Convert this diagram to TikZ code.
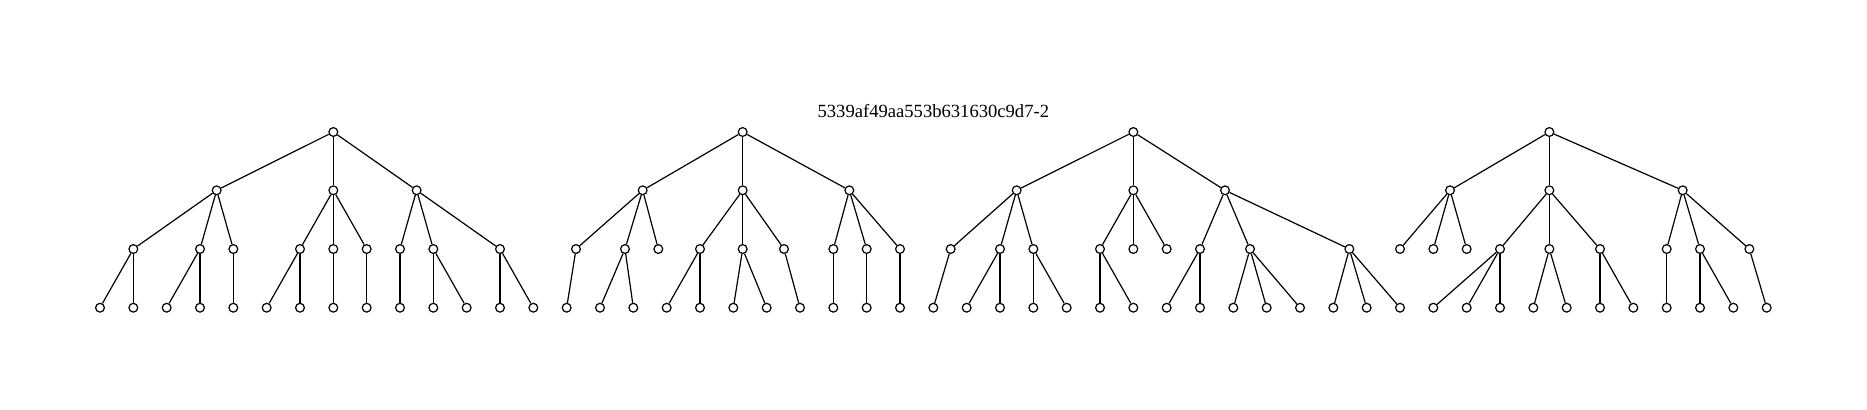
\documentclass[tikz,border=0pt]{standalone}
\usepackage{fontspec}
\setmainfont{Liberation Serif}
\usepackage{tikz}

\begin{document}
\begin{tikzpicture}[x=16.6667pt, y=-0.5pt,
  vertex/.style={draw, circle, fill=white, inner sep=0pt, minimum size=4.4pt, line width=0.6pt},
  edge/.style={line width=0.6pt}]
  \def\ya{132}
  \def\yb{190.3}
  \def\yc{249}
  \def\yd{307.7}
  \useasboundingbox (-3,0) rectangle (53.01,409);
  \node[anchor=base, font=\fontsize{9.3}{11}\selectfont] (title) at (25,117.3)
    {5339af49aa553b631630c9d7-2};
  % inner vertices of the four trees
  \foreach \n/\x/\y in {
      a/7/\ya, a1/3.5/\yb, a2/7/\yb, a3/9.5/\yb,
      a11/1/\yc, a12/3/\yc, a13/4/\yc, a21/6/\yc, a22/7/\yc, a23/8/\yc,
      a31/9/\yc, a32/10/\yc, a33/12/\yc,
      b/19.28/\ya, b1/16.28/\yb, b2/19.28/\yb, b3/22.48/\yb,
      b11/14.28/\yc, b12/15.75/\yc, b13/16.75/\yc, b21/18/\yc, b22/19.28/\yc,
      b23/20.52/\yc, b31/22/\yc, b32/23/\yc, b33/24/\yc,
      c/31/\ya, c1/27.5/\yb, c2/31/\yb, c3/33.75/\yb,
      c11/25.52/\yc, c12/27/\yc, c13/28/\yc, c21/30/\yc, c22/31/\yc, c23/32/\yc,
      c31/33/\yc, c32/34.5/\yc, c33/37.48/\yc,
      d/43.48/\ya, d1/40.5/\yb, d2/43.48/\yb, d3/47.48/\yb,
      d11/39/\yc, d12/40/\yc, d13/41/\yc, d21/42/\yc, d22/43.48/\yc, d23/45/\yc,
      d31/47/\yc, d32/48/\yc, d33/49.48/\yc}
    \node[vertex] (\n) at (\x,\y) {};
  % leaves
  \foreach \i in {0,...,50}
    \node[vertex] (l\i) at (\i,\yd) {};
  % upper edges
  \foreach \t in {a,b,c,d} {
    \foreach \k in {1,2,3} {
      \draw[edge] (\t) -- (\t\k);
      \foreach \m in {1,2,3}
        \draw[edge] (\t\k) -- (\t\k\m);
    }
  }
  % edges to the leaves
  \foreach \p/\c in {
      a11/0, a11/1, a12/2, a12/3, a13/4, a21/5, a21/6, a22/7, a23/8,
      a31/9, a32/10, a32/11, a33/12, a33/13,
      b11/14, b12/15, b12/16, b21/17, b21/18, b22/19, b22/20, b23/21,
      b31/22, b32/23, b33/24,
      c11/25, c12/26, c12/27, c13/28, c13/29, c21/30, c21/31, c31/32, c31/33,
      c32/34, c32/35, c32/36, c33/37, c33/38, c33/39,
      d21/40, d21/41, d21/42, d22/43, d22/44, d23/45, d23/46, d31/47,
      d32/48, d32/49, d33/50}
    \draw[edge] (\p) -- (l\c);
\end{tikzpicture}
\end{document}
